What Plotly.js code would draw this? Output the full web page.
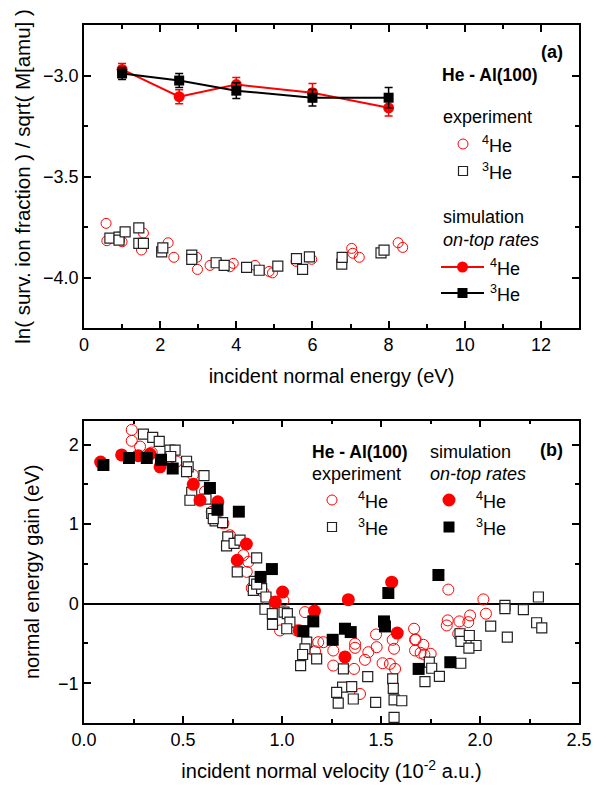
<!DOCTYPE html>
<html>
<head>
<meta charset="utf-8">
<script src="https://cdn.plot.ly/plotly-3.0.1.min.js"></script>
<style>html,body{margin:0;padding:0;background:#fff;}#chart{width:606px;height:790px;}</style>
</head>
<body>
<div id="chart"></div>
<script>
// ---------- Panel (a): survival ion fraction vs incident normal energy ----------
const simEnergy = [1, 2.5, 4, 6, 8];
const sim4HeFrac = [-2.97, -3.105, -3.045, -3.085, -3.16];
const sim4HeErr = [0.03, 0.035, 0.035, 0.045, 0.04];
const sim3HeFrac = [-2.99, -3.025, -3.075, -3.11, -3.11];
const sim3HeErr = [0.03, 0.035, 0.039, 0.041, 0.05];

const exp4HeEnergy = [0.58, 0.6, 0.9, 1.0, 1.51, 1.56, 2.21, 2.36, 2.96, 2.98, 3.31, 3.83, 3.92, 4.49, 4.86, 4.95, 5.57, 5.98, 7.03, 7.06, 7.23, 8.25, 8.37];
const exp4HeFrac = [-3.732, -3.818, -3.80, -3.823, -3.864, -3.78, -3.828, -3.90, -3.90, -3.96, -3.94, -3.947, -3.93, -3.94, -3.97, -3.977, -3.92, -3.91, -3.856, -3.88, -3.90, -3.828, -3.851];
const exp3HeEnergy = [0.68, 0.92, 0.92, 1.08, 1.44, 1.44, 1.56, 2.04, 2.07, 2.83, 2.83, 3.47, 3.68, 4.27, 4.6, 5.09, 5.58, 5.74, 5.92, 6.77, 6.78, 7.8, 7.88];
const exp3HeFrac = [-3.805, -3.80, -3.815, -3.774, -3.754, -3.831, -3.831, -3.873, -3.853, -3.889, -3.91, -3.927, -3.94, -3.95, -3.964, -3.944, -3.907, -3.96, -3.898, -3.934, -3.90, -3.878, -3.864];

// ---------- Panel (b): normal energy gain vs incident normal velocity ----------
const simVel4He = [0.084, 0.19, 0.274, 0.333, 0.384, 0.552, 0.586, 0.676, 0.774, 0.82, 0.966, 1.003, 1.087, 1.164, 1.318, 1.335, 1.554, 1.582];
const simGain4He = [1.78, 1.87, 1.86, 1.88, 1.72, 1.50, 1.30, 1.28, 0.546, 0.75, 0.02, 0.146, -0.34, -0.093, -0.67, 0.05, 0.27, -0.37];
const simVel3He = [0.098, 0.227, 0.317, 0.389, 0.448, 0.636, 0.674, 0.782, 0.892, 0.949, 1.108, 1.158, 1.256, 1.318, 1.347, 1.515, 1.52, 1.537, 1.69, 1.79, 1.85];
const simGain3He = [1.744, 1.83, 1.83, 1.81, 1.70, 1.455, 1.18, 1.157, 0.336, 0.435, -0.345, -0.223, -0.454, -0.315, -0.357, -0.223, -0.286, 0.134, -0.82, 0.36, -0.736];

const expVel4He = [0.241, 0.241, 0.283, 0.342, 0.434, 0.468, 0.52, 0.55, 0.611, 0.645, 0.67, 0.704, 0.737, 0.771, 0.805, 0.83, 0.822, 0.847, 0.872, 0.905, 0.93,
  1.007, 1.116, 1.074, 0.99, 1.209, 1.183, 1.259, 1.369, 1.369, 1.259, 1.364, 1.419, 1.436, 1.478, 1.475, 1.167, 1.508, 1.545, 1.571, 1.566, 1.559, 1.667, 1.672, 1.672, 1.394,
  1.84, 2.017, 2.03, 1.95, 1.941, 1.896, 1.837, 1.832, 1.89, 1.675, 1.714, 1.70, 1.719, 1.751];
const expGain4He = [2.185, 2.047, 1.975, 1.90, 1.83, 1.786, 1.75, 1.62, 1.41, 1.155, 1.07, 1.01, 0.86, 0.777, 0.61, 0.525, 0.40, 0.197, 0.272, 0.146, 0.04,
  0.04, -0.106, -0.337, -0.337, -0.484, -0.484, -0.589, -0.504, -0.555, -0.778, -0.82, -0.706, -0.61, -0.547, -0.387, -0.598, -0.749, -0.757, -0.82, -0.567, -0.454, -0.315, -0.454, -0.589, -1.135,
  0.177, 0.054, -0.126, -0.148, -0.232, -0.223, -0.21, -0.274, -0.378, -0.45, -0.517, -0.618, -0.639, -0.63];

const expVel3He = [0.30, 0.347, 0.38, 0.434, 0.46, 0.438, 0.518, 0.526, 0.518, 0.606, 0.544, 0.535, 0.616, 0.645, 0.662, 0.70, 0.726, 0.72, 0.758, 0.788, 0.774, 0.872, 0.86, 0.855, 0.897, 0.919, 0.914, 0.951, 0.952,
  0.653, 0.872, 1.01, 1.027, 1.04, 1.024, 1.125, 1.116, 1.104, 1.175, 1.094, 1.31, 1.306, 1.276, 1.352, 1.36, 1.284, 1.433, 1.473, 1.559, 1.562, 1.566, 1.605, 1.566,
  2.126, 2.126, 2.219, 2.295, 2.286, 2.312, 2.054, 2.138, 1.899, 1.904, 1.946, 1.98, 1.944, 1.903, 1.744, 1.756, 1.795, 1.722];
const expGain3He = [2.13, 2.09, 2.04, 1.93, 1.93, 1.85, 1.79, 1.72, 1.66, 1.61, 1.40, 1.30, 1.315, 1.135, 1.04, 1.02, 0.84, 0.726, 0.757, 0.80, 0.40, 0.575, 0.28, 0.167, 0.19, 0.084, -0.07, -0.126, -0.26,
  1.07, 0.245, -0.106, -0.126, -0.232, -0.315, -0.484, -0.567, -0.639, -0.694, -0.778, -0.82, -1.05, -1.115, -1.043, -1.198, -1.25, -0.917, -1.24, -0.946, -1.064, -1.21, -1.22, -1.43,
  -0.021, -0.063, -0.076, 0.084, -0.24, -0.303, -0.283, -0.42, -0.378, -0.475, -0.40, -0.526, -0.56, -0.749, -0.736, -0.812, -0.913, -0.98];

// ---------- styling ----------
const FONT = 'Liberation Sans, Arial, Helvetica, sans-serif';
const RED = '#ff0000';

const traces = [
  // panel (a)
  {x: exp4HeEnergy, y: exp4HeFrac, xaxis: 'x', yaxis: 'y', mode: 'markers', type: 'scatter',
   marker: {symbol: 'circle-open', size: 10, color: RED, line: {width: 1, color: RED}}},
  {x: exp3HeEnergy, y: exp3HeFrac, xaxis: 'x', yaxis: 'y', mode: 'markers', type: 'scatter',
   marker: {symbol: 'square', size: 10, color: '#fff', line: {width: 1.2, color: '#222'}}},
  {x: simEnergy, y: sim4HeFrac, xaxis: 'x', yaxis: 'y', mode: 'lines+markers', type: 'scatter',
   line: {color: RED, width: 2}, marker: {symbol: 'circle', size: 11, color: RED},
   error_y: {type: 'data', array: sim4HeErr, color: RED, thickness: 1.5, width: 4}},
  {x: simEnergy, y: sim3HeFrac, xaxis: 'x', yaxis: 'y', mode: 'lines+markers', type: 'scatter',
   line: {color: '#000', width: 2}, marker: {symbol: 'square', size: 10, color: '#000'},
   error_y: {type: 'data', array: sim3HeErr, color: '#000', thickness: 1.5, width: 4}},
  // panel (b)
  {x: expVel4He, y: expGain4He, xaxis: 'x2', yaxis: 'y2', mode: 'markers', type: 'scatter',
   marker: {symbol: 'circle-open', size: 11, color: RED, line: {width: 1, color: RED}}},
  {x: expVel3He, y: expGain3He, xaxis: 'x2', yaxis: 'y2', mode: 'markers', type: 'scatter',
   marker: {symbol: 'square', size: 10, color: '#fff', line: {width: 1.2, color: '#222'}}},
  {x: simVel4He, y: simGain4He, xaxis: 'x2', yaxis: 'y2', mode: 'markers', type: 'scatter',
   marker: {symbol: 'circle', size: 13, color: RED}},
  {x: simVel3He, y: simGain3He, xaxis: 'x2', yaxis: 'y2', mode: 'markers', type: 'scatter',
   marker: {symbol: 'square', size: 12, color: '#000'}}
];

function axis(extra) {
  return Object.assign({
    showline: true, linecolor: '#000', linewidth: 1.5, mirror: 'ticks',
    ticks: 'inside', ticklen: 7, tickwidth: 1.5, tickcolor: '#000',
    showgrid: false, zeroline: false,
    tickfont: {family: FONT, size: 18, color: '#000'}
  }, extra);
}

// pixel -> paper helpers (plot area: x 84..579, y 25..723)
const L = 84, R = 27, T = 25, B = 67, W = 606, H = 790;
const PW = W - L - R, PH = H - T - B;
const px = v => (v - L) / PW;
const py = v => (H - B - v) / PH;

function txt(x, y, text, opts) {
  return Object.assign({xref: 'paper', yref: 'paper', x: px(x), y: py(y), text: text, showarrow: false,
    xanchor: 'left', yanchor: 'middle', font: {family: FONT, size: 18, color: '#000'}}, opts || {});
}
function sym(type, x, y, r, fill, line, lw) {
  return {type: type, xref: 'paper', yref: 'paper', xsizemode: 'pixel', ysizemode: 'pixel',
    xanchor: px(x), yanchor: py(y), x0: -r, x1: r, y0: -r, y1: r,
    fillcolor: fill, line: {color: line, width: lw}};
}
function hline(x0, x1, y, color) {
  return {type: 'line', xref: 'paper', yref: 'paper', x0: px(x0), x1: px(x1), y0: py(y), y1: py(y),
    line: {color: color, width: 2}};
}

const BOLD = {family: FONT, size: 17.5, color: '#000'};
const TITLE = {family: FONT, size: 20, color: '#000'};
const annotations = [
  txt(552, 52, '<b>(a)</b>', {xanchor: 'center', font: {family: FONT, size: 18, color: '#000'}}),
  txt(440, 75, '<b>He - Al(100)</b>', {font: BOLD}),
  txt(441, 117, 'experiment'),
  txt(480, 144, '<sup>4</sup>He'),
  txt(480, 171, '<sup>3</sup>He'),
  txt(441, 217, 'simulation'),
  txt(441, 240, '<i>on-top rates</i>'),
  txt(488, 267, '<sup>4</sup>He'),
  txt(488, 293, '<sup>3</sup>He'),

  txt(551, 450, '<b>(b)</b>', {xanchor: 'center', font: {family: FONT, size: 18, color: '#000'}}),
  txt(310, 452, '<b>He - Al(100)</b>', {font: BOLD}),
  txt(428, 452, 'simulation'),
  txt(310, 474, 'experiment'),
  txt(428, 474, '<i>on-top rates</i>'),
  txt(356, 500, '<sup>4</sup>He'),
  txt(356, 527, '<sup>3</sup>He'),
  txt(474, 500, '<sup>4</sup>He'),
  txt(474, 527, '<sup>3</sup>He')
];

const shapes = [
  // legend keys panel (a)
  sym('circle', 463, 144, 5, 'rgba(0,0,0,0)', RED, 1),
  sym('rect', 463, 171, 4.5, '#fff', '#222', 1.2),
  hline(441, 484, 267, RED),
  sym('circle', 462.5, 267, 5.5, RED, RED, 0),
  hline(441, 484, 293, '#000'),
  sym('rect', 462.5, 293, 5, '#000', '#000', 0),
  // legend keys panel (b)
  sym('circle', 332, 500, 5, 'rgba(0,0,0,0)', RED, 1),
  sym('rect', 332, 527, 4.5, '#fff', '#222', 1.2),
  sym('circle', 449, 500, 6.5, RED, RED, 0),
  sym('rect', 449, 527, 5.5, '#000', '#000', 0)
];

const layout = {
  width: W, height: H,
  margin: {l: L, r: R, t: T, b: B},
  paper_bgcolor: '#fff', plot_bgcolor: '#fff',
  showlegend: false,
  font: {family: FONT, color: '#000'},
  xaxis: axis({domain: [0, 1], anchor: 'y', range: [0, 13], dtick: 2, tick0: 0,
    minor: {dtick: 1, tick0: 0, ticks: 'inside', ticklen: 4, tickcolor: '#000', tickwidth: 1.5},
    title: {text: 'incident normal energy (eV)', font: TITLE, standoff: 15}}),
  yaxis: axis({domain: [0.5659, 1], anchor: 'x', range: [-4.25, -2.75], dtick: 0.5, tick0: 0, tickformat: '.1f',
    minor: {dtick: 0.25, tick0: 0, ticks: 'inside', ticklen: 4, tickcolor: '#000', tickwidth: 1.5},
    title: {text: 'ln( surv. ion fraction ) / sqrt( M[amu] )', font: {family: FONT, size: 20.5, color: '#000'}, standoff: 7}}),
  xaxis2: axis({domain: [0, 1], anchor: 'y2', range: [0, 2.5], dtick: 0.5, tick0: 0, tickformat: '.1f',
    minor: {dtick: 0.25, tick0: 0, ticks: 'inside', ticklen: 4, tickcolor: '#000', tickwidth: 1.5},
    title: {text: 'incident normal velocity (10<sup>-2</sup> a.u.)', font: TITLE, standoff: 15}}),
  yaxis2: axis({domain: [0, 0.4331], anchor: 'x2', range: [-1.5, 2.3], dtick: 1, tick0: 0,
    zeroline: true, zerolinecolor: '#000', zerolinewidth: 2,
    minor: {dtick: 0.5, tick0: 0, ticks: 'inside', ticklen: 4, tickcolor: '#000', tickwidth: 1.5},
    title: {text: 'normal energy gain (eV)', font: TITLE, standoff: 13}}),
  annotations: annotations,
  shapes: shapes
};

Plotly.newPlot('chart', traces, layout, {displayModeBar: false});
</script>
</body>
</html>
